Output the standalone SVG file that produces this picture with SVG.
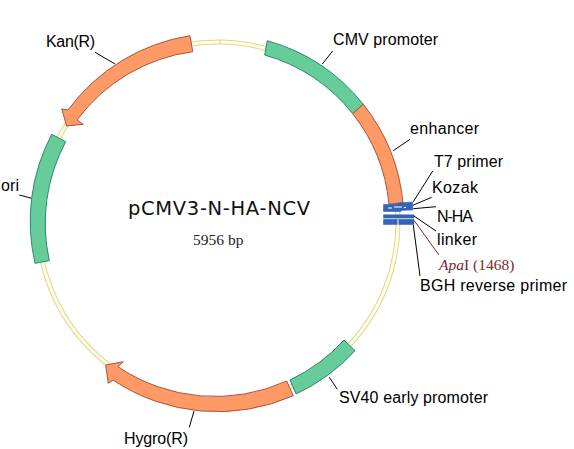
<svg xmlns="http://www.w3.org/2000/svg" width="574" height="449" viewBox="0 0 574 449">
<style>
.lb{font-family:"Liberation Sans",Arial,sans-serif;font-size:16px;fill:#000}
.or{fill:#ff9966;stroke:#a8553a;stroke-width:1}
.gr{fill:#66cc99;stroke:#2a8a6a;stroke-width:1}
.bl{fill:#3366bb;stroke:#2a55a5;stroke-width:.5}
.ld{fill:none;stroke:#000;stroke-width:1}
</style>
<rect width="574" height="449" fill="#fff"/>
<g id="backbone">
<circle cx="218" cy="222" r="180" fill="none" stroke="#d9d79a" stroke-width="5"/>
<circle cx="218" cy="222" r="180" fill="none" stroke="#fffde0" stroke-width="3"/>
<path d="M220 39.5V44.5" stroke="#d9d79a" stroke-width="1"/>
</g>
<g id="connectors">
<path class="ld" d="M410 139.3L393.3 150.7"/>
<path class="ld" d="M432.7 171L413.3 201.7"/>
<path class="ld" d="M431.7 197.3L412.7 205.3"/>
<path class="ld" d="M436 206.7L413.3 208.7"/>
<path class="ld" d="M436 231L414 216"/>
<path class="ld" d="M439 255L414.3 220.7" style="stroke:#7a2a2a"/>
<path class="ld" d="M420 276L413.3 225"/>
<path class="ld" d="M95 52.3L115 64"/>
<path class="ld" d="M332.7 51L322.3 64"/>
<path class="ld" d="M19.3 195L31.7 198.3"/>
<path class="ld" d="M329.3 377.3L337.3 389.3"/>
<path class="ld" d="M194 411L189.3 427.3"/>
</g>
<g id="kan">
<path class="or" d="M190 35.7L192.7 51.7A172 172 0 0 0 77 120L83.3 124.3L66.7 126L61.7 109L68 110A188 188 0 0 1 190 35.7Z"/>
<text class="lb" x="46" y="47" textLength="49">Kan(R)</text>
</g>
<g id="cmv">
<path class="gr" d="M267.3 40.7L264.7 55A173 173 0 0 1 352.7 113.7L363.3 104.3A188 188 0 0 0 267.3 40.7Z"/>
<text class="lb" x="333" y="45" textLength="105">CMV promoter</text>
</g>
<g id="enhancer">
<path class="or" d="M363.3 104.3L352.7 113.7A173 173 0 0 1 389 204L403 203A188 188 0 0 0 363.3 104.3Z"/>
<text class="lb" x="410" y="134" textLength="69">enhancer</text>
</g>
<g id="ori">
<path class="gr" d="M51.7 134.3L65.7 141.7A173 173 0 0 0 49.3 260.7L35 263.3A187 187 0 0 1 51.7 134.3Z"/>
<text class="lb" x="1" y="191" textLength="18">ori</text>
</g>
<g id="sv40">
<path class="gr" d="M344 340L355 350.7A188 188 0 0 1 296 394L290 380A173 173 0 0 0 344 340Z"/>
<text class="lb" x="339" y="403" textLength="149">SV40 early promoter</text>
</g>
<g id="hygro">
<path class="or" d="M286.7 381L293.3 395.7A188 188 0 0 1 113 380L108.3 383.3L105.7 365L123.3 361.7L118 366.7A173 173 0 0 0 286.7 381Z"/>
<text class="lb" x="124" y="444" textLength="64">Hygro(R)</text>
</g>
<g id="t7-kozak-nha">
<path class="bl" d="M398 203L412.7 202V210L398 210.5Z"/>
<path class="bl" d="M383.5 204.5L401 204V211.5H383.5Z"/>
<path d="M388 208H392M394 207H402M404 207.5H406" stroke="#fff" stroke-width="1"/>
<text class="lb" x="434" y="167" textLength="69">T7 primer</text>
<text class="lb" x="432" y="193" textLength="46">Kozak</text>
<text class="lb" x="437" y="222" textLength="36">N-HA</text>
</g>
<g id="linker">
<path class="bl" d="M383.5 214.8H414V218H383.5Z"/>
<text class="lb" x="437" y="245" textLength="40">linker</text>
</g>
<g id="apai">
<text x="439" y="270" font-family="Liberation Serif,serif" font-size="15.5" fill="#7a2a2a"><tspan font-style="italic">Apa</tspan>I (1468)</text>
</g>
<g id="bgh">
<path class="bl" d="M383.5 219.3H414V224.5H383.5Z"/>
<path d="M398 219.5V225" stroke="#fff" stroke-width="1"/>
<text class="lb" x="420" y="291" textLength="147">BGH reverse primer</text>
</g>
<g id="title">
<text x="128" y="215" font-family="DejaVu Sans,sans-serif" font-size="19.5" fill="#111" textLength="182">pCMV3-N-HA-NCV</text>
<text x="193" y="245" font-family="Liberation Serif,serif" font-size="15.5" fill="#222">5956 bp</text>
</g>
</svg>
